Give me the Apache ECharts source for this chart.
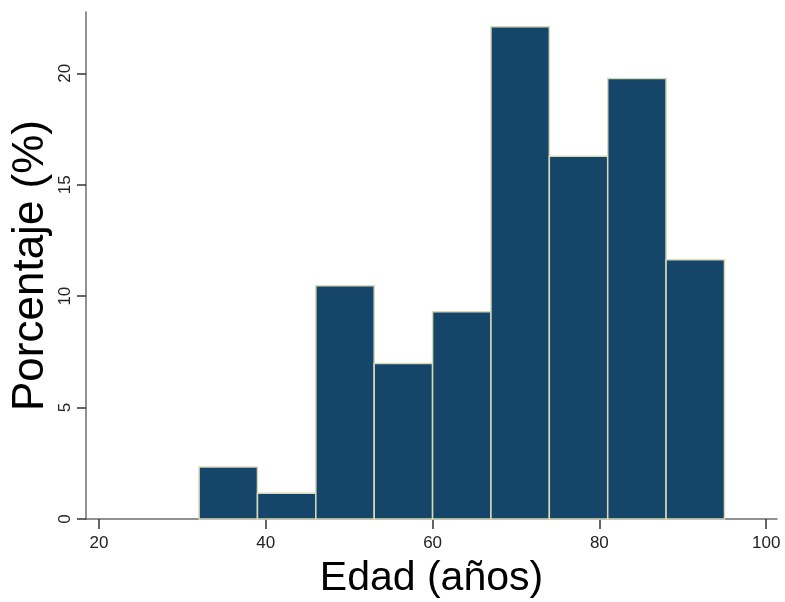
<!DOCTYPE html>
<html>
<head>
<meta charset="utf-8">
<script src="https://cdn.jsdelivr.net/npm/echarts@6/dist/echarts.min.js"></script>
<style>html,body{margin:0;padding:0;background:#fff}#c{width:785px;height:602px}</style>
</head>
<body>
<div id="c"></div>
<script>
// Histogram bins (age, years) and percentages
var binStarts = [32, 39, 46, 53, 60, 67, 74, 81, 88];
var binEnds   = [39, 46, 53, 60, 67, 74, 81, 88, 95];
var percents  = [2.33, 1.16, 10.47, 6.98, 9.30, 22.09, 16.28, 19.77, 11.63];
var xTicks = [20, 40, 60, 80, 100];
var yTicks = [0, 5, 10, 15, 20];

var data = binStarts.map(function (s, i) { return [s, binEnds[i], percents[i]]; });

var font = "'Liberation Sans', Arial, Helvetica, sans-serif";
var chart = echarts.init(document.getElementById('c'), null, {renderer: 'canvas'});
chart.setOption({
  animation: false,
  grid: {left: 86, right: 8, top: 12, bottom: 83, containLabel: false, outerBoundsMode: 'none'},
  xAxis: {
    type: 'value', min: 18.44, max: 101.3,
    name: 'Edad (años)', nameLocation: 'middle', nameGap: 39, nameMoveOverlap: false,
    nameTextStyle: {fontFamily: font, fontSize: 41, color: '#000'},
    axisLine: {show: true, lineStyle: {color: '#6e6e6e', width: 1.5}},
    axisTick: {show: true, length: 10, lineStyle: {color: '#333', width: 1.5}, customValues: xTicks},
    axisLabel: {customValues: xTicks, fontFamily: font, fontSize: 17, color: '#222', margin: 16},
    splitLine: {show: false}
  },
  yAxis: {
    type: 'value', min: 0, max: 22.75,
    name: 'Porcentaje (%)', nameLocation: 'middle', nameGap: 33, nameMoveOverlap: false,
    nameTextStyle: {fontFamily: font, fontSize: 44, color: '#000'},
    axisLine: {show: true, lineStyle: {color: '#6e6e6e', width: 1.5}},
    axisTick: {show: true, length: 9, lineStyle: {color: '#333', width: 1.5}, customValues: yTicks},
    axisLabel: {customValues: yTicks, rotate: 90, fontFamily: font, fontSize: 17, color: '#222', margin: 12},
    splitLine: {show: false}
  },
  series: [{
    type: 'custom',
    data: data,
    encode: {x: [0, 1], y: 2},
    renderItem: function (params, api) {
      var p0 = api.coord([api.value(0), api.value(2)]);
      var p1 = api.coord([api.value(1), 0]);
      return {
        type: 'rect',
        shape: {x: p0[0], y: p0[1], width: p1[0] - p0[0], height: p1[1] - p0[1]},
        style: {fill: '#154568', stroke: '#d9d9b8', lineWidth: 1.5}
      };
    }
  }]
});
</script>
</body>
</html>
